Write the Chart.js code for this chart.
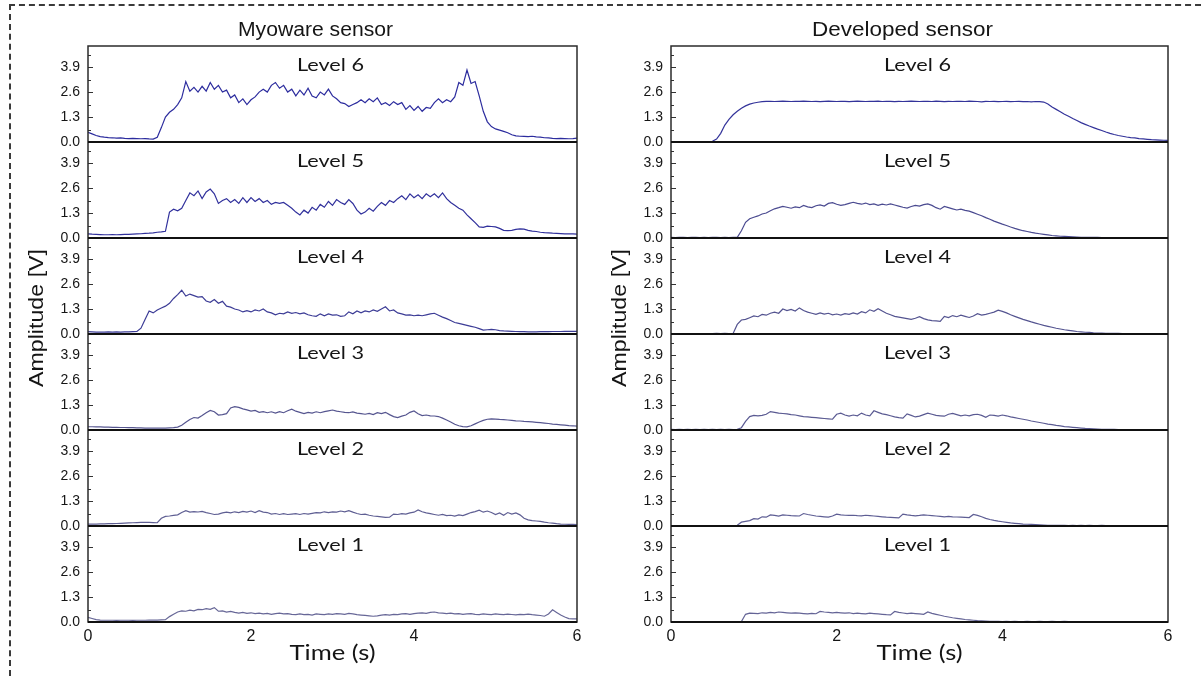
<!DOCTYPE html>
<html lang="en">
<head>
<meta charset="UTF-8">
<title>Myoware sensor vs developed sensor</title>
<script src="https://cdn.jsdelivr.net/npm/chart.js"></script>
<style>
    html, body { margin: 0; padding: 0; background: #fff; overflow: hidden; }
    /* dashed figure frame, only top and left edges are visible in the crop */
    #frame {
        position: absolute; left: 9px; top: 4px; width: 1200px; height: 680px;
        border-top: 2px dashed #3a3a3a; border-left: 2px dashed #3a3a3a;
    }
    canvas { position: absolute; top: 0; }
    #left-chart { left: 0; }
    #right-chart { left: 600px; }
</style>
</head>
<body>
<div id="frame"></div>
<canvas id="left-chart" width="600" height="676"></canvas>
<canvas id="right-chart" width="601" height="676"></canvas>

<script>
    const SAMPLE_STEP = 0.05;            // seconds between read-off points
    const LEVELS = [6, 5, 4, 3, 2, 1];   // top panel first
    const Y_TICKS = [0, 1.3, 2.6, 3.9];
    const X_TICKS = [0, 2, 4, 6];

    // Myoware sensor, amplitude in V, t = 0 .. 6 s
    const myoware6 = [0.50,0.42,0.34,0.28,0.25,0.23,0.22,0.20,0.21,0.19,
        0.18,0.19,0.18,0.17,0.18,0.16,0.15,0.25,0.75,1.30,
        1.55,1.70,1.95,2.30,3.15,2.65,2.85,2.60,2.90,2.65,
        3.10,2.75,2.95,2.60,2.70,2.30,2.45,2.05,2.25,1.95,
        2.20,2.35,2.60,2.75,2.60,2.95,3.10,2.80,2.95,2.60,
        2.75,2.40,2.70,2.45,2.80,2.40,2.30,2.60,2.45,2.75,
        2.40,2.25,2.05,2.00,1.85,1.95,2.05,2.20,2.05,2.25,
        2.10,2.30,1.95,2.05,1.90,2.10,1.95,2.05,1.70,1.90,
        1.65,1.85,1.60,1.80,1.75,2.05,2.25,2.05,2.20,2.10,
        2.35,3.10,2.95,3.75,3.05,3.15,2.40,1.60,1.05,0.80,
        0.68,0.62,0.55,0.48,0.38,0.32,0.30,0.29,0.28,0.30,
        0.27,0.25,0.22,0.21,0.19,0.18,0.19,0.18,0.17,0.18,
        0.20];
    const myoware5 = [0.22,0.20,0.19,0.18,0.17,0.17,0.18,0.17,0.18,0.19,
        0.19,0.20,0.21,0.22,0.24,0.25,0.27,0.30,0.32,0.35,
        1.35,1.50,1.42,1.55,1.95,2.35,2.20,2.45,2.05,2.40,
        2.55,2.30,1.80,1.95,2.05,1.85,2.00,1.80,2.10,1.85,
        2.10,1.90,2.05,1.85,1.95,1.75,1.85,1.80,1.85,1.70,
        1.55,1.35,1.20,1.45,1.30,1.60,1.45,1.75,1.60,1.90,
        1.70,2.00,1.85,1.75,2.00,1.80,1.45,1.25,1.35,1.55,
        1.40,1.65,1.85,1.70,1.95,1.85,2.05,2.20,2.00,2.30,
        2.10,2.25,2.05,2.30,2.15,2.30,2.10,2.35,2.05,1.85,
        1.70,1.55,1.45,1.20,1.00,0.80,0.58,0.55,0.62,0.60,
        0.58,0.50,0.40,0.38,0.40,0.45,0.48,0.46,0.40,0.36,
        0.34,0.30,0.28,0.27,0.25,0.24,0.23,0.22,0.21,0.21,
        0.20];
    const myoware4 = [0.12,0.11,0.10,0.10,0.10,0.11,0.10,0.11,0.10,0.11,
        0.11,0.12,0.13,0.30,0.75,1.20,1.10,1.25,1.35,1.45,
        1.60,1.85,2.05,2.28,1.98,2.08,2.00,1.92,1.95,1.72,
        1.65,1.80,1.60,1.70,1.45,1.40,1.30,1.25,1.15,1.22,
        1.15,1.25,1.20,1.30,1.15,1.10,1.00,1.08,1.05,1.15,
        1.08,1.12,1.05,1.10,1.00,0.95,0.92,1.05,0.95,1.05,
        0.98,1.00,0.92,0.95,1.15,1.05,1.20,1.10,1.20,1.15,
        1.25,1.18,1.30,1.42,1.20,1.25,1.10,1.05,0.98,1.00,
        0.95,0.98,0.95,1.00,1.05,1.08,0.98,0.88,0.80,0.70,
        0.60,0.55,0.50,0.45,0.40,0.35,0.28,0.20,0.22,0.24,
        0.22,0.18,0.16,0.15,0.14,0.13,0.12,0.12,0.11,0.11,
        0.11,0.12,0.12,0.12,0.13,0.13,0.13,0.14,0.14,0.14,
        0.14];
    const myoware3 = [0.17,0.17,0.16,0.16,0.15,0.15,0.14,0.14,0.13,0.13,
        0.12,0.12,0.11,0.11,0.10,0.10,0.10,0.10,0.10,0.10,
        0.11,0.12,0.15,0.25,0.40,0.55,0.65,0.62,0.75,0.90,
        1.02,0.95,0.78,0.80,0.85,1.15,1.22,1.18,1.10,1.05,
        0.98,1.02,0.92,0.96,0.90,0.95,0.88,0.96,0.90,1.00,
        1.08,0.98,0.92,0.85,0.92,0.88,0.95,0.90,0.96,1.00,
        1.04,0.98,0.95,0.92,0.90,0.94,0.88,0.85,0.82,0.86,
        0.80,0.90,0.85,0.92,0.80,0.70,0.65,0.72,0.78,0.92,
        0.99,0.85,0.75,0.78,0.74,0.73,0.70,0.62,0.52,0.42,
        0.30,0.22,0.18,0.16,0.22,0.32,0.42,0.50,0.56,0.58,
        0.57,0.55,0.54,0.52,0.50,0.48,0.47,0.45,0.44,0.42,
        0.40,0.38,0.36,0.34,0.31,0.29,0.27,0.25,0.23,0.22,
        0.20];
    const myoware2 = [0.10,0.10,0.10,0.11,0.11,0.12,0.12,0.13,0.14,0.15,
        0.16,0.17,0.18,0.19,0.19,0.19,0.18,0.17,0.40,0.50,
        0.52,0.55,0.58,0.70,0.80,0.72,0.75,0.73,0.76,0.70,
        0.65,0.60,0.62,0.68,0.72,0.68,0.74,0.70,0.76,0.72,
        0.78,0.70,0.80,0.72,0.70,0.62,0.65,0.60,0.64,0.60,
        0.62,0.64,0.60,0.65,0.62,0.66,0.70,0.68,0.74,0.70,
        0.74,0.72,0.78,0.74,0.80,0.72,0.65,0.60,0.62,0.56,
        0.52,0.50,0.48,0.45,0.46,0.62,0.60,0.64,0.62,0.68,
        0.72,0.84,0.74,0.68,0.64,0.60,0.56,0.60,0.54,0.56,
        0.52,0.58,0.54,0.62,0.70,0.75,0.82,0.72,0.78,0.70,
        0.60,0.68,0.56,0.70,0.62,0.68,0.58,0.40,0.32,0.28,
        0.26,0.24,0.20,0.17,0.15,0.12,0.10,0.09,0.08,0.08,
        0.07];
    const myoware1 = [0.24,0.18,0.12,0.10,0.09,0.09,0.09,0.08,0.09,0.09,
        0.09,0.08,0.09,0.09,0.09,0.10,0.10,0.10,0.11,0.12,
        0.28,0.40,0.52,0.58,0.56,0.62,0.58,0.66,0.64,0.70,
        0.66,0.75,0.56,0.58,0.52,0.55,0.50,0.46,0.50,0.45,
        0.48,0.44,0.46,0.42,0.45,0.40,0.44,0.46,0.42,0.44,
        0.40,0.38,0.42,0.38,0.40,0.36,0.42,0.40,0.38,0.42,
        0.40,0.44,0.42,0.40,0.45,0.42,0.38,0.36,0.34,0.32,
        0.30,0.32,0.36,0.38,0.36,0.40,0.38,0.42,0.44,0.40,
        0.44,0.46,0.48,0.45,0.50,0.52,0.48,0.46,0.44,0.46,
        0.42,0.44,0.40,0.42,0.44,0.40,0.38,0.42,0.40,0.38,
        0.42,0.40,0.38,0.41,0.39,0.37,0.40,0.38,0.41,0.38,
        0.36,0.34,0.30,0.42,0.64,0.50,0.36,0.26,0.18,0.16,
        0.16];

    // Developed sensor, amplitude in V, t = 0 .. 6 s (null = trace hidden under axis)
    const developed6 = [0.01,0.01,0.01,0.01,0.01,0.01,0.01,0.01,0.01,0.01,
        0.04,0.15,0.45,0.88,1.18,1.42,1.60,1.76,1.88,1.97,
        2.03,2.07,2.10,2.12,2.12,2.11,2.12,2.13,2.12,2.11,
        2.12,2.12,2.13,2.12,2.11,2.12,2.10,2.12,2.13,2.12,
        2.11,2.12,2.12,2.10,2.12,2.13,2.12,2.11,2.12,2.12,
        2.13,2.11,2.12,2.12,2.10,2.12,2.11,2.12,2.13,2.12,
        2.11,2.12,2.12,2.11,2.13,2.12,2.10,2.12,2.11,2.12,
        2.12,2.11,2.13,2.12,2.11,2.09,2.12,2.11,2.12,2.10,
        2.11,2.12,2.10,2.11,2.12,2.10,2.11,2.09,2.11,2.10,
        2.08,1.98,1.82,1.70,1.58,1.45,1.34,1.22,1.12,1.01,
        0.92,0.83,0.75,0.67,0.60,0.52,0.45,0.39,0.34,0.30,
        0.26,0.23,0.21,0.18,0.16,0.14,0.12,0.11,0.10,0.09,
        0.08];
    const developed5 = [0.03,0.02,0.03,0.03,0.02,0.03,0.03,0.02,0.03,0.02,
        0.03,0.03,0.02,0.03,0.02,0.03,0.03,0.38,0.82,1.00,
        1.08,1.15,1.25,1.30,1.42,1.52,1.58,1.65,1.60,1.55,
        1.62,1.58,1.70,1.62,1.58,1.68,1.72,1.66,1.80,1.84,
        1.76,1.70,1.74,1.80,1.86,1.80,1.76,1.82,1.74,1.78,
        1.70,1.76,1.72,1.78,1.72,1.66,1.60,1.56,1.64,1.70,
        1.66,1.74,1.78,1.70,1.58,1.50,1.64,1.58,1.52,1.46,
        1.50,1.44,1.40,1.32,1.24,1.16,1.06,0.98,0.88,0.80,
        0.72,0.65,0.57,0.50,0.44,0.38,0.34,0.29,0.25,0.22,
        0.19,0.16,0.13,0.11,0.09,0.08,0.07,0.06,0.05,0.04,
        0.04,0.03,0.03,0.03,0.02,0.02,null,null,null,null,
        null,null,null,null,null,null,null,null,null,null,
        null];
    const developed4 = [0.02,0.02,0.02,0.02,0.02,0.02,0.02,0.02,0.02,0.02,
        0.02,0.03,0.02,0.03,0.02,0.03,0.50,0.73,0.76,0.85,
        0.94,0.90,1.02,0.98,1.08,1.14,1.08,1.30,1.22,1.28,
        1.20,1.36,1.22,1.14,1.08,1.02,1.10,1.04,1.08,1.00,
        1.04,0.98,1.06,1.02,1.10,1.04,1.16,1.10,1.26,1.18,
        1.32,1.20,1.08,1.00,0.92,0.88,0.84,0.80,0.76,0.82,
        0.90,0.80,0.74,0.70,0.68,0.66,0.92,0.86,0.96,0.90,
        0.98,0.92,0.86,0.94,1.06,0.98,1.02,1.08,1.14,1.24,
        1.18,1.10,1.00,0.92,0.84,0.76,0.70,0.63,0.57,0.51,
        0.45,0.40,0.35,0.30,0.26,0.22,0.19,0.16,0.13,0.11,
        0.09,0.08,0.06,0.05,0.05,0.04,0.03,0.03,0.03,0.02,
        0.02,null,null,null,null,null,null,null,null,null,
        null];
    const developed3 = [0.03,0.02,0.03,0.02,0.03,0.02,0.03,0.02,0.03,0.02,
        0.03,0.02,0.03,0.02,0.03,0.02,0.03,0.12,0.45,0.70,
        0.76,0.74,0.76,0.82,0.96,0.92,0.88,0.86,0.84,0.80,
        0.78,0.74,0.70,0.68,0.66,0.64,0.62,0.60,0.58,0.56,
        0.82,0.88,0.78,0.72,0.78,0.74,0.88,0.78,0.74,1.00,
        0.92,0.84,0.80,0.74,0.68,0.64,0.62,0.84,0.76,0.68,
        0.72,0.80,0.88,0.82,0.76,0.74,0.72,0.82,0.86,0.80,
        0.74,0.78,0.74,0.80,0.82,0.76,0.66,0.78,0.76,0.72,
        0.78,0.74,0.68,0.64,0.60,0.56,0.52,0.47,0.43,0.39,
        0.35,0.31,0.28,0.24,0.21,0.18,0.16,0.14,0.12,0.10,
        0.08,0.07,0.06,0.05,0.04,0.03,0.03,0.03,0.02,0.02,
        0.02,0.02,0.02,0.02,0.02,0.02,0.02,0.02,0.02,0.02,
        0.02];
    const developed2 = [0.02,0.02,0.02,0.02,0.02,0.02,0.02,0.02,0.02,0.02,
        0.02,0.02,0.02,0.02,0.02,0.02,0.04,0.20,0.24,0.28,
        0.38,0.36,0.48,0.46,0.58,0.55,0.52,0.58,0.56,0.54,
        0.53,0.52,0.65,0.60,0.56,0.52,0.50,0.48,0.46,0.52,
        0.62,0.58,0.56,0.55,0.56,0.54,0.53,0.56,0.54,0.52,
        0.50,0.48,0.46,0.45,0.44,0.42,0.62,0.58,0.55,0.53,
        0.55,0.58,0.56,0.54,0.52,0.50,0.48,0.50,0.48,0.47,
        0.46,0.45,0.44,0.60,0.55,0.48,0.40,0.34,0.29,0.25,
        0.22,0.19,0.16,0.14,0.12,0.10,0.09,0.08,0.07,0.06,
        0.05,0.04,0.03,0.03,0.03,0.03,0.02,0.03,0.02,0.03,
        0.02,0.03,0.02,0.02,0.03,0.02,0.02,null,null,null,
        null,null,null,null,null,null,null,null,null,null,
        null];
    const developed1 = [0.02,0.02,0.02,0.02,0.02,0.02,0.02,0.02,0.02,0.02,
        0.02,0.02,0.02,0.02,0.02,0.02,0.02,0.02,0.40,0.46,
        0.45,0.44,0.48,0.46,0.50,0.48,0.52,0.50,0.48,0.46,
        0.48,0.46,0.44,0.42,0.45,0.43,0.55,0.52,0.50,0.48,
        0.50,0.48,0.46,0.48,0.44,0.46,0.44,0.42,0.46,0.44,
        0.42,0.40,0.38,0.37,0.55,0.50,0.47,0.44,0.46,0.44,
        0.42,0.40,0.52,0.45,0.40,0.35,0.30,0.26,0.22,0.19,
        0.16,0.13,0.11,0.09,0.07,0.06,0.05,0.04,0.03,0.03,
        0.02,0.03,0.02,0.03,0.02,0.02,0.03,0.02,0.02,0.03,
        0.02,0.02,0.03,0.02,0.02,0.03,0.02,0.02,0.02,null,
        null,null,null,null,null,null,null,null,null,null,
        null,null,null,null,null,null,null,null,null,null,
        null];

    const myowareSeries = [myoware6, myoware5, myoware4, myoware3, myoware2, myoware1];
    const developedSeries = [developed6, developed5, developed4, developed3, developed2, developed1];

    const TEXT_COLOR = '#151515';
    Chart.defaults.font.family = "'Liberation Sans', Arial, sans-serif";
    Chart.defaults.color = TEXT_COLOR;

    function toPoints(values) {
        return values.map((v, i) => ({ x: +(i * SAMPLE_STEP).toFixed(2), y: v }));
    }

    // draws text squeezed/stretched to a given width (the source figure is not 1:1)
    function fitText(ctx, text, x, y, font, width, angle) {
        ctx.save();
        ctx.font = font;
        const natural = ctx.measureText(text).width;
        ctx.translate(x, y);
        if (angle) ctx.rotate(angle);
        ctx.scale(width / natural, 1);
        ctx.textAlign = 'center';
        ctx.textBaseline = 'alphabetic';
        ctx.fillStyle = TEXT_COLOR;
        ctx.fillText(text, 0, 0);
        ctx.restore();
    }

    // frame, panel dividers, inward ticks and all the extra labels
    const panelPlugin = {
        id: 'panels',
        afterDatasetsDraw(chart, args, opts) {
            const ctx = chart.ctx;
            const a = chart.chartArea;
            const mid = (a.left + a.right) / 2;
            const yScales = LEVELS.map(l => chart.scales['y' + l]);
            ctx.save();

            ctx.strokeStyle = '#333';
            ctx.lineWidth = 1;
            yScales.forEach(s => {
                Y_TICKS.forEach(v => {
                    const y1 = Math.round(s.getPixelForValue(v)) + 0.5;
                    const y2 = Math.round(s.getPixelForValue(v + 0.65)) + 0.5;
                    ctx.beginPath();
                    ctx.moveTo(a.left, y1); ctx.lineTo(a.left + 5, y1);
                    ctx.moveTo(a.left, y2); ctx.lineTo(a.left + 3, y2);
                    ctx.stroke();
                });
            });

            ctx.strokeStyle = '#2b2b2b';
            ctx.lineWidth = 1.5;
            ctx.strokeRect(a.left, a.top, a.right - a.left, a.bottom - a.top);

            ctx.strokeStyle = '#111';
            ctx.lineWidth = 2;
            yScales.forEach(s => {
                ctx.beginPath();
                ctx.moveTo(a.left, s.bottom);
                ctx.lineTo(a.right, s.bottom);
                ctx.stroke();
            });
            ctx.restore();

            yScales.forEach((s, k) => {
                fitText(ctx, 'Level ' + LEVELS[k], mid - 2, s.top + 25, "18px 'Lato', sans-serif", 67);
            });
            fitText(ctx, opts.title, mid - 17, 36, "20px 'Liberation Sans', Arial, sans-serif", opts.titleWidth);
            fitText(ctx, 'Time (s)', mid, 660, "22px 'Lato', sans-serif", 86);
            fitText(ctx, 'Amplitude [V]', a.left - 45, 318, "21px 'Liberation Sans', Arial, sans-serif", 138, -Math.PI / 2);
        }
    };

    function buildChart(canvasId, series, cfg) {
        const scales = {
            x: {
                type: 'linear', min: 0, max: 6,
                afterBuildTicks: s => { s.ticks = X_TICKS.map(v => ({ value: v })); },
                ticks: { font: { size: 16 }, padding: 5, maxRotation: 0 },
                grid: { display: false, drawTicks: false },
                border: { display: false },
                afterFit: s => { s.height = 54; }
            }
        };
        // added bottom panel first so the stack comes out with Level 6 on top
        [...LEVELS].reverse().forEach(l => {
            scales['y' + l] = {
                type: 'linear', position: 'left', stack: 'levels', stackWeight: 1,
                min: 0, max: 5,
                afterBuildTicks: s => { s.ticks = Y_TICKS.map(v => ({ value: v })); },
                ticks: { font: { size: 14 }, padding: 8, autoSkip: false, callback: v => v.toFixed(1) },
                grid: { display: false, drawTicks: false },
                border: { display: false },
                afterFit: s => { s.width = cfg.axisWidth; }
            };
        });

        return new Chart(document.getElementById(canvasId), {
            type: 'line',
            data: {
                datasets: series.map((vals, k) => ({
                    data: toPoints(vals),
                    yAxisID: 'y' + LEVELS[k],
                    borderColor: cfg.colors[k],
                    borderWidth: 1.2,
                    pointRadius: 0,
                    tension: 0,
                    spanGaps: false
                }))
            },
            options: {
                responsive: false,
                animation: false,
                devicePixelRatio: 1,
                layout: { padding: { left: 0, right: cfg.padRight, top: 46, bottom: 0 } },
                scales: scales,
                plugins: {
                    legend: { display: false },
                    tooltip: { enabled: false },
                    panels: { title: cfg.title, titleWidth: cfg.titleWidth }
                }
            },
            plugins: [panelPlugin]
        });
    }

    buildChart('left-chart', myowareSeries, {
        title: 'Myoware sensor', titleWidth: 155, axisWidth: 88, padRight: 23,
        colors: ['#2c2c9e', '#30309c', '#3c3c96', '#55558f', '#5f5f93', '#676797']
    });
    buildChart('right-chart', developedSeries, {
        title: 'Developed sensor', titleWidth: 181, axisWidth: 71, padRight: 33,
        colors: ['#33339a', '#4a4a90', '#545490', '#5a5a92', '#5e5e94', '#646496']
    });
</script>
</body>
</html>
